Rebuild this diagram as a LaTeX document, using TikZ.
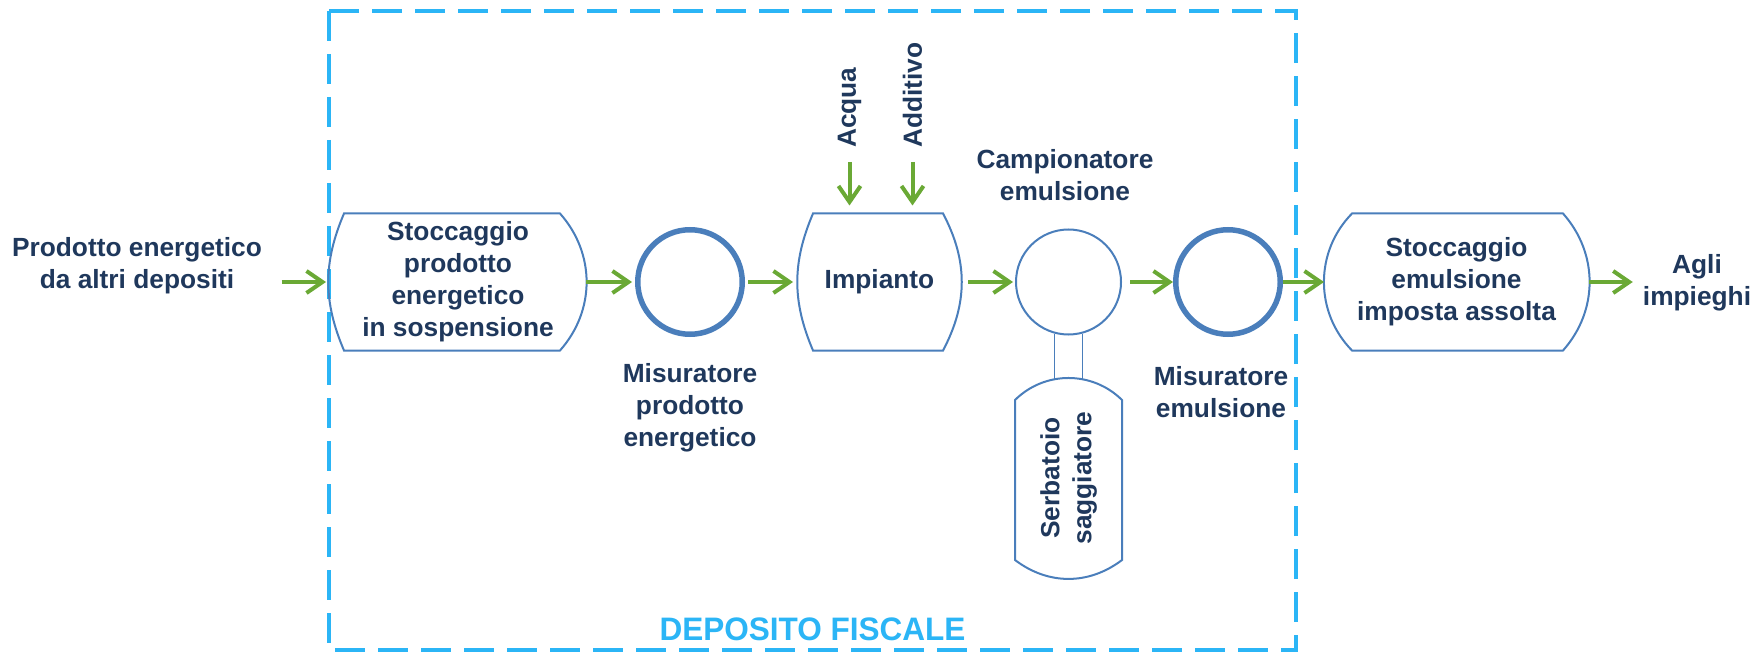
\documentclass[tikz,border=0pt]{standalone}
\usepackage{fontspec}
\setmainfont{Liberation Sans}
\usetikzlibrary{arrows.meta}
\definecolor{navy}{HTML}{1F385C}
\definecolor{shapeblue}{HTML}{4A7EBB}
\definecolor{flowgreen}{HTML}{6AA935}
\definecolor{skyblue}{HTML}{2BB5F6}
\begin{document}
\begin{tikzpicture}[x=1pt,y=1pt,
  txt/.style={text=navy, font=\fontsize{26.3}{32}\selectfont\bfseries, align=center, inner sep=0pt},
  holder/.style={txt, inner sep=0pt, outer sep=0pt},
  outline/.style={draw=shapeblue, line width=2pt},
  meter/.style={circle, draw=shapeblue, line width=5.5pt, minimum size=104.5pt, inner sep=0pt},
  sampler/.style={circle, draw=shapeblue, line width=2pt, minimum size=105pt, inner sep=0pt},
  arr/.style={draw=flowgreen, line width=4pt, -{Straight Barb[length=16pt,width=22pt]}},
  pipe/.style={draw=shapeblue, line width=1.5pt},
]
\useasboundingbox (0,0) rectangle (1755,654);

% fiscal warehouse boundary
\draw[skyblue, line width=3.5pt, dash pattern=on 30pt off 13pt] (329,643) rectangle (1296,4);
\node[text=skyblue, font=\fontsize{32.5}{36}\selectfont\bfseries, anchor=base, inner sep=0pt] (depo) at (812.5,14) {\scalebox{0.97}[1]{DEPOSITO FISCALE}};

% storage 1
\node[holder, minimum width=256pt, minimum height=137pt] (s1) at (458,372) {Stoccaggio\\prodotto\\energetico\\in sospensione};
\draw[outline] ([xshift=14pt]s1.north west) -- ([xshift=-26pt]s1.north east)
  to[bend left=41.6] ([xshift=-26pt]s1.south east) -- ([xshift=14pt]s1.south west)
  to[bend left=23.1] ([xshift=14pt]s1.north west) -- cycle;

% meter 1
\node[meter] (m1) at (690,372) {};
\node[txt] (m1lab) at (690,246) {Misuratore\\prodotto\\energetico};

% plant
\node[holder, minimum width=161pt, minimum height=137pt] (imp) at (879.5,372) {Impianto};
\draw[outline] ([xshift=14pt]imp.north west) -- ([xshift=-17pt]imp.north east)
  to[bend left=27.9] ([xshift=-17pt]imp.south east) -- ([xshift=14pt]imp.south west)
  to[bend left=23.1] ([xshift=14pt]imp.north west) -- cycle;

% sampler
\node[sampler] (camp) at (1068.5,372) {};
\node[txt] (camplab) at (1065,479) {Campionatore\\emulsione};

% test tank
\node[holder, minimum width=107pt, minimum height=200pt] (tank) at (1068.5,176) {};
\draw[outline] ([yshift=-22pt]tank.north west) to[bend left=44.7] ([yshift=-22pt]tank.north east)
  -- ([yshift=18pt]tank.south east) to[bend left=37.2] ([yshift=18pt]tank.south west) -- cycle;
\node[txt, rotate=90] (tanklab) at (tank.center) {Serbatoio\\saggiatore};
\draw[pipe] (camp.-105) -- ([yshift=-1.5pt]camp.-105 |- tank.north);
\draw[pipe] (camp.-75) -- ([yshift=-1.5pt]camp.-75 |- tank.north);

% meter 2
\node[meter] (m2) at (1228,372) {};
\node[txt] (m2lab) at (1221,261.5) {Misuratore\\emulsione};

% storage 2
\node[holder, minimum width=265pt, minimum height=137pt] (s2) at (1456.5,372) {Stoccaggio\\emulsione\\imposta assolta};
\draw[outline] ([xshift=28pt]s2.north west) -- ([xshift=-26pt]s2.north east)
  to[bend left=41.6] ([xshift=-26pt]s2.south east) -- ([xshift=28pt]s2.south west)
  to[bend left=44.5] ([xshift=28pt]s2.north west) -- cycle;

% outer labels
\node[txt] (src) at (137,388.5) {Prodotto energetico\\da altri depositi};
\node[txt] (out) at (1697,371) {Agli\\impieghi};
\node[txt, rotate=90, anchor=west] (acqua) at (849.5,506) {Acqua};
\node[txt, rotate=90, anchor=west] (additivo) at (912.5,506) {Additivo};

% flow arrows
\draw[arr, shorten <=19.5pt, shorten >=4pt] (src.east |- s1.west) -- (s1.west);
\draw[arr, shorten >=3pt] (s1.east) -- (m1.west);
\draw[arr, shorten <=3pt, shorten >=6pt] (m1.east) -- (imp.west);
\draw[arr, shorten <=8pt, shorten >=2pt] (imp.east) -- (camp.west);
\draw[arr, shorten <=8pt] (camp.east) -- (m2.west);
\draw[arr] (m2.east) -- (s2.west);
\draw[arr, shorten >=10pt] (s2.east) -- (s2.east -| out.west);
\draw[arr, shorten <=14pt, shorten >=8pt] (acqua.west) -- (acqua.west |- imp.north);
\draw[arr, shorten <=14pt, shorten >=8pt] (additivo.west) -- (additivo.west |- imp.north);
\end{tikzpicture}
\end{document}
